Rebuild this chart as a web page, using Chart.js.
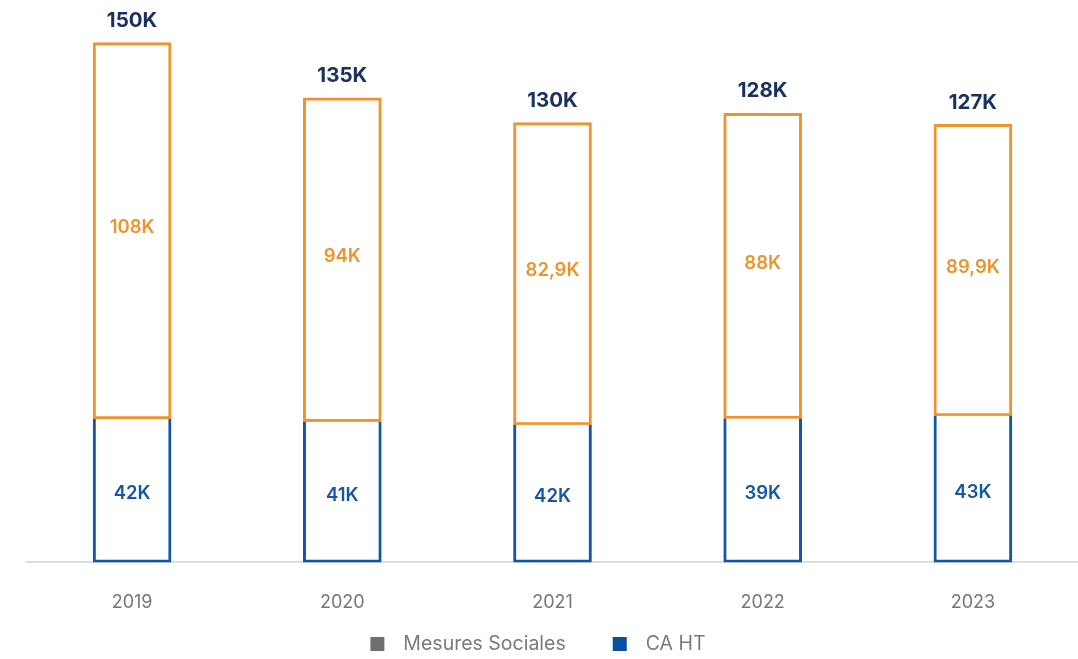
<!DOCTYPE html>
<html>
<head>
<meta charset="utf-8">
<script src="https://cdn.jsdelivr.net/npm/chart.js@4"></script>
<style>
  html, body { margin: 0; padding: 0; background: #fff; }
  #wrap { width: 1078px; height: 659px; }
</style>
</head>
<body>
<div id="wrap"><canvas id="chart" width="1078" height="659"></canvas></div>
<script>
// Data
const years = ['2019', '2020', '2021', '2022', '2023'];
// bar heights (K) as drawn
const caHT = [41.4, 40.6, 39.7, 41.5, 42.3];
const mesuresSociales = [108.6, 93.5, 87.2, 88.1, 84.1];
// printed labels
const caLabels = ['42K', '41K', '42K', '39K', '43K'];
const mesuresLabels = ['108K', '94K', '82,9K', '88K', '89,9K'];
const totalLabels = ['150K', '135K', '130K', '128K', '127K'];

const ORANGE = '#f0932d';
const BLUE = '#1257a6';
const NAVY = '#1b3163';
const FONT = "Inter, 'Open Sans', sans-serif";

// Value labels drawn on the bars
const barLabels = {
  id: 'barLabels',
  afterDatasetsDraw(chart) {
    const ctx = chart.ctx;
    const blue = chart.getDatasetMeta(0).data;
    const orange = chart.getDatasetMeta(1).data;
    ctx.save();
    ctx.textAlign = 'center';
    ctx.textBaseline = 'middle';
    blue.forEach((bar, i) => {
      ctx.font = '600 18.5px ' + FONT;
      ctx.fillStyle = BLUE;
      ctx.fillText(caLabels[i], bar.x, (bar.y + bar.base) / 2 + 3);
    });
    orange.forEach((bar, i) => {
      ctx.font = '600 18.5px ' + FONT;
      ctx.fillStyle = ORANGE;
      ctx.fillText(mesuresLabels[i], bar.x, (bar.y + bar.base) / 2 - 3);
      ctx.font = 'bold 20.5px ' + FONT;
      ctx.fillStyle = NAVY;
      ctx.fillText(totalLabels[i], bar.x, bar.y - 22);
    });
    ctx.restore();
  }
};

// Legend with the spacing of the original
const legendColors = ['#707070', '#0b4fa3'];
const legendOrder = [1, 0];
const customLegend = {
  id: 'customLegend',
  afterDraw(chart) {
    const ctx = chart.ctx;
    const y = 644;
    ctx.save();
    ctx.font = '19.5px ' + FONT;
    ctx.textBaseline = 'middle';
    const items = legendOrder.map((di, k) => ({
      text: chart.data.datasets[di].label,
      color: legendColors[k]
    }));
    const box = 14, gap = 19, spacing = 47;
    let total = 0;
    items.forEach((it, k) => {
      it.w = box + gap + ctx.measureText(it.text).width;
      total += it.w + (k ? spacing : 0);
    });
    let x = (chart.width - total) / 2 - 1;
    items.forEach(it => {
      ctx.fillStyle = it.color;
      ctx.fillRect(x, y - box / 2, box, box);
      ctx.fillStyle = '#7a7a7a';
      ctx.fillText(it.text, x + box + gap, y);
      x += it.w + spacing;
    });
    ctx.restore();
  }
};

new Chart(document.getElementById('chart'), {
  type: 'bar',
  data: {
    labels: years,
    datasets: [
      {
        label: 'CA HT',
        data: caHT,
        backgroundColor: '#ffffff',
        borderColor: BLUE,
        borderWidth: 3,
        borderSkipped: 'end',
        barThickness: 78
      },
      {
        label: 'Mesures Sociales',
        data: mesuresSociales,
        backgroundColor: '#ffffff',
        borderColor: ORANGE,
        borderWidth: 3,
        borderSkipped: false,
        barThickness: 78
      }
    ]
  },
  options: {
    responsive: false,
    animation: false,
    layout: { padding: { top: 8, left: 27, right: 0, bottom: 17 } },
    plugins: {
      legend: { display: false },
      tooltip: { enabled: false }
    },
    scales: {
      x: {
        stacked: true,
        grid: { display: false, drawTicks: false },
        border: { display: true, color: '#dedede', width: 2 },
        ticks: { color: '#777777', font: { family: FONT, size: 18 }, padding: 29 }
      },
      y: {
        stacked: true,
        display: false,
        min: 0,
        max: 160
      }
    }
  },
  plugins: [barLabels, customLegend]
});
</script>
</body>
</html>
